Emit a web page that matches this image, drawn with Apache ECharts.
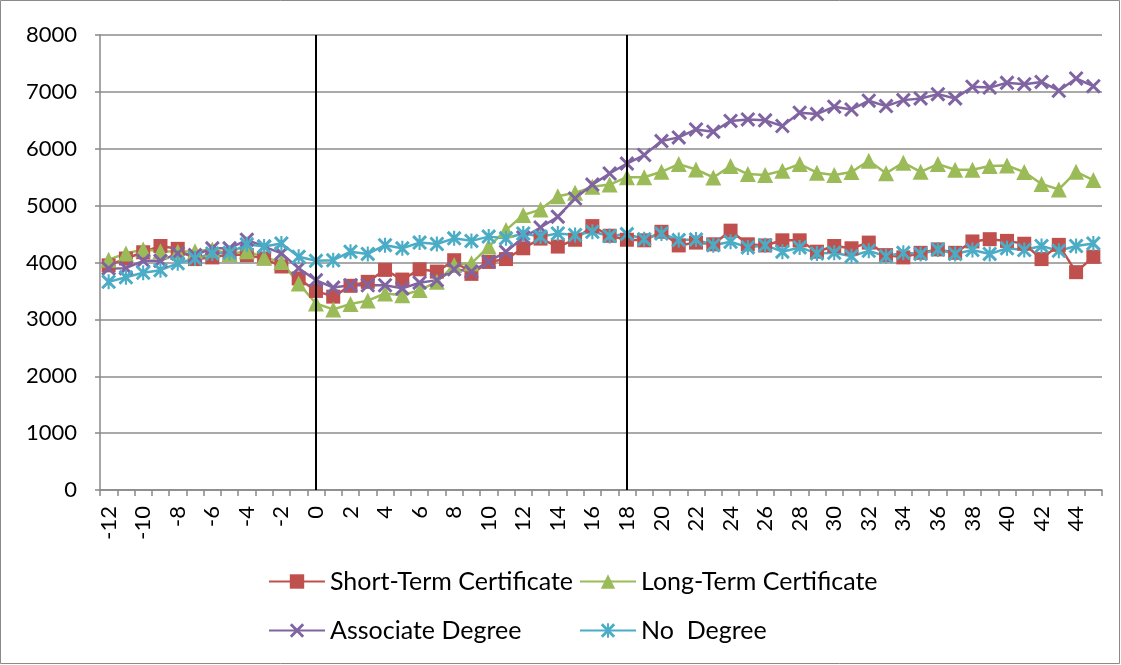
<!DOCTYPE html>
<html>
<head>
<meta charset="utf-8">
<script src="https://cdn.jsdelivr.net/npm/echarts@6/dist/echarts.min.js"></script>
<style>
  html, body { margin: 0; padding: 0; background: #fff; }
  #main { width: 1121px; height: 665px; }
</style>
</head>
<body>
<div id="main"></div>
<script>
var months = ['-12','-11','-10','-9','-8','-7','-6','-5','-4','-3','-2','-1',
  '0','1','2','3','4','5','6','7','8','9','10','11','12','13','14','15','16','17',
  '18','19','20','21','22','23','24','25','26','27','28','29','30','31','32','33',
  '34','35','36','37','38','39','40','41','42','43','44','45'];

var shortTerm = [3950,4070,4180,4290,4240,4060,4090,4140,4130,4070,3930,3720,
  3500,3400,3590,3660,3870,3700,3880,3840,4040,3800,4010,4060,4250,4420,4280,4400,4640,4470,
  4400,4390,4540,4300,4350,4320,4560,4320,4300,4390,4390,4190,4290,4250,4350,4130,
  4090,4170,4230,4170,4370,4410,4380,4330,4060,4310,3830,4100];

var longTerm = [4050,4160,4230,4200,4190,4200,4230,4150,4200,4090,4010,3630,
  3280,3175,3270,3330,3455,3425,3515,3660,3955,3985,4280,4570,4835,4930,5165,5225,5330,5370,
  5500,5500,5595,5730,5635,5495,5695,5555,5540,5615,5730,5580,5540,5590,5790,5570,
  5755,5595,5730,5630,5630,5695,5705,5590,5380,5285,5595,5450];

var associate = [3895,3900,4030,4030,4160,4130,4250,4250,4400,4280,4160,3900,
  3690,3560,3600,3600,3600,3545,3645,3690,3880,3840,4015,4190,4440,4615,4805,5125,5370,5565,
  5740,5890,6135,6200,6340,6300,6490,6515,6500,6400,6635,6610,6740,6690,6845,6750,
  6855,6885,6960,6885,7090,7075,7160,7135,7175,7020,7235,7100];

var noDegree = [3660,3740,3820,3865,3985,4070,4160,4170,4320,4280,4335,4100,
  4030,4040,4190,4150,4305,4250,4350,4325,4425,4380,4455,4425,4510,4455,4510,4485,4540,4465,
  4500,4410,4510,4395,4405,4305,4365,4265,4305,4190,4265,4160,4170,4110,4205,4110,
  4170,4150,4230,4150,4220,4150,4250,4220,4290,4205,4290,4335];

var yTicks = [0, 1000, 2000, 3000, 4000, 5000, 6000, 7000, 8000];
var cutMonths = ['0', '18']; // vertical reference lines

var FONT = 'Lato, "Open Sans", sans-serif';
// marker shapes (filled paths)
var xMark = 'path://M0,1.4L1.4,0L10,8.6L8.6,10Z M8.6,0L10,1.4L1.4,10L0,8.6Z';
var starMark = 'path://M0,1.4L1.4,0L10,8.6L8.6,10Z M8.6,0L10,1.4L1.4,10L0,8.6Z M4.3,0L5.7,0L5.7,10L4.3,10Z';

function makeSeries(name, data, color, symbol, size) {
  return {
    name: name,
    type: 'line',
    data: data,
    symbol: symbol,
    symbolSize: size,
    showAllSymbol: true,
    lineStyle: { color: color, width: 2.5 },
    itemStyle: { color: color },
    emphasis: { disabled: true },
    animation: false
  };
}

var series = [
  makeSeries('Short-Term Certificate', shortTerm, '#C0504D', 'rect', 14),
  makeSeries('Long-Term Certificate', longTerm, '#9BBB59', 'triangle', 16),
  makeSeries('Associate Degree', associate, '#8064A2', xMark, 15),
  makeSeries('No  Degree', noDegree, '#4BACC6', starMark, 15)
];

series[0].markLine = {
  silent: true,
  symbol: 'none',
  label: { show: false },
  lineStyle: { color: '#000', width: 2, type: 'solid' },
  data: cutMonths.map(function (m) { return { xAxis: months.indexOf(m) }; })
};

var legendText = { fontFamily: FONT, fontSize: 25, color: '#000' };

var option = {
  backgroundColor: '#fff',
  animation: false,
  graphic: [{
    type: 'rect',
    shape: { x: 0.5, y: 0.5, width: 1119, height: 663 },
    style: { fill: 'none', stroke: '#8a8a8a', lineWidth: 1 },
    silent: true
  }],
  grid: { left: 100, right: 19, top: 35, bottom: 175 },
  legend: [{
    orient: 'vertical',
    left: 263,
    top: 564,
    itemWidth: 56,
    itemHeight: 18,
    itemGap: 24,
    textStyle: legendText,
    data: ['Short-Term Certificate', 'Associate Degree']
  }, {
    orient: 'vertical',
    left: 574,
    top: 564,
    itemWidth: 56,
    itemHeight: 18,
    itemGap: 24,
    textStyle: legendText,
    data: ['Long-Term Certificate', 'No  Degree']
  }],
  xAxis: {
    type: 'category',
    data: months,
    boundaryGap: true,
    axisLine: { lineStyle: { color: '#888', width: 1.5 } },
    axisTick: { show: true, interval: 0, length: 6, lineStyle: { color: '#888', width: 1.5 } },
    axisLabel: {
      interval: 1,
      rotate: 90,
      margin: 16,
      fontFamily: FONT,
      fontSize: 22,
      color: '#000'
    },
    splitLine: { show: false }
  },
  yAxis: {
    type: 'value',
    min: yTicks[0],
    max: yTicks[yTicks.length - 1],
    interval: 1000,
    axisLine: { show: true, lineStyle: { color: '#888', width: 1.5 } },
    axisTick: { show: true, length: 5, lineStyle: { color: '#888', width: 1.5 } },
    axisLabel: {
      fontFamily: FONT,
      fontSize: 22,
      color: '#000',
      margin: 23,
      formatter: function (v) { return String(v); }
    },
    splitLine: { lineStyle: { color: '#8c8c8c', width: 1.5 } }
  },
  series: series
};

var chart = echarts.init(document.getElementById('main'), null, { renderer: 'canvas' });
chart.setOption(option);
</script>
</body>
</html>
